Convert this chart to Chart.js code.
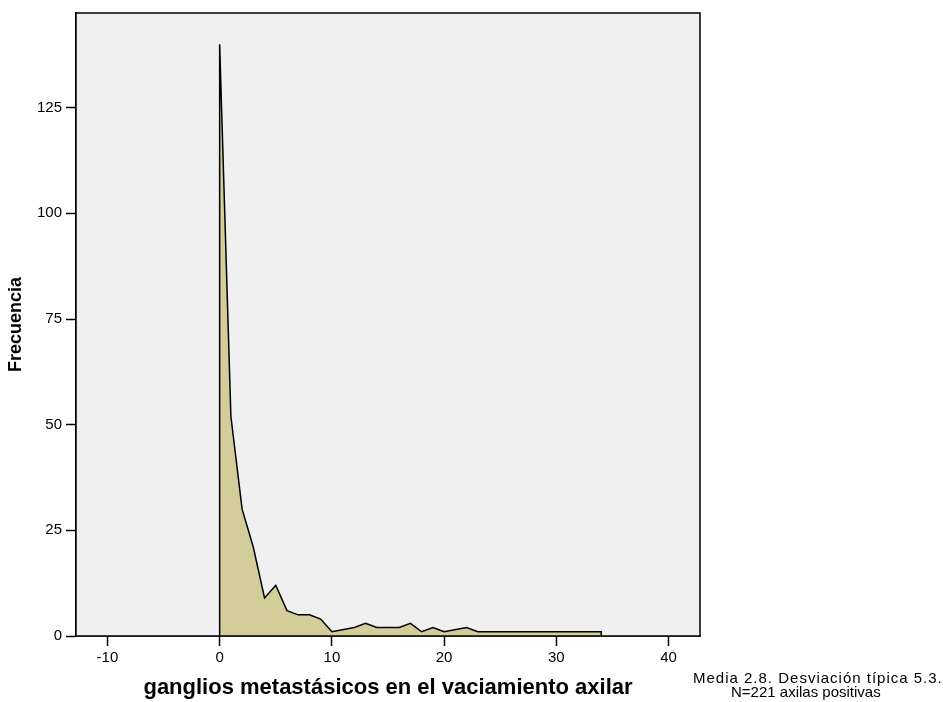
<!DOCTYPE html>
<html>
<head>
<meta charset="utf-8">
<script src="https://cdn.jsdelivr.net/npm/chart.js@4.4.1/dist/chart.umd.min.js"></script>
<style>
    body { margin: 0; background: #fff; }
    #wrap { position: relative; width: 943px; height: 702px; overflow: hidden; }
    .note {
        position: absolute; font-family: "Liberation Sans", Arial, sans-serif;
        font-size: 15px; line-height: 15px; color: #000; white-space: nowrap;
    }
    #note1 { left: 693px; top: 670px; letter-spacing: 1px; }
    #note2 { left: 731px; top: 684px; }
</style>
</head>
<body>
<div id="wrap">
    <canvas id="chart" width="943" height="702"></canvas>
    <div class="note" id="note1">Media 2.8. Desviación típica 5.3.</div>
    <div class="note" id="note2">N=221 axilas positivas</div>
</div>
<script>
const ganglios =   [0,   0,  1,  2,  3, 4,  5, 6, 7, 8, 9, 10, 12, 13, 14, 15, 16, 17, 18, 19, 20, 22, 23, 34, 34];
const frecuencia = [0, 140, 52, 30, 21, 9, 12, 6, 5, 5, 4,  1,  2,  3,  2,  2,  2,  3,  1,  2,  1,  2,  1,  1,  0];

const xTicks = [-10, 0, 10, 20, 30, 40];
const yTicks = [0, 25, 50, 75, 100, 125];

const points = ganglios.map((g, i) => ({ x: g, y: frecuencia[i] }));

const frame = {
    id: 'frame',
    beforeDatasetsDraw(chart) {
        const { ctx, chartArea: a } = chart;
        ctx.save();
        ctx.fillStyle = '#f0f0f0';
        ctx.fillRect(a.left, a.top, a.right - a.left, a.bottom - a.top);
        ctx.restore();
    },
    afterDraw(chart) {
        const { ctx, chartArea: a } = chart;
        ctx.save();
        ctx.strokeStyle = '#000';
        ctx.lineWidth = 1.5;
        ctx.strokeRect(a.left, a.top, a.right - a.left, a.bottom - a.top);
        ctx.restore();
    }
};

const family = '"Liberation Sans", Arial, sans-serif';
const tickFont = { family: family, size: 15 };

new Chart(document.getElementById('chart'), {
    type: 'scatter',
    data: {
        datasets: [{
            data: points,
            showLine: true,
            fill: 'origin',
            backgroundColor: 'rgb(211, 206, 153)',
            borderColor: '#000',
            borderWidth: 1.5,
            pointRadius: 0,
            tension: 0
        }]
    },
    options: {
        responsive: false,
        animation: false,
        devicePixelRatio: 1,
        layout: { padding: { top: 9, right: 243, left: 0, bottom: 0 } },
        plugins: { legend: { display: false }, tooltip: { enabled: false } },
        scales: {
            x: {
                type: 'linear',
                min: -12.8,
                max: 42.8,
                afterBuildTicks: s => { s.ticks = xTicks.map(v => ({ value: v })); },
                afterFit: s => { s.height = 66; },
                grid: { drawOnChartArea: false, drawTicks: true, tickLength: 10, tickWidth: 1.5, tickColor: '#000' },
                border: { display: true, color: '#000', width: 1.5 },
                ticks: { color: '#000', font: tickFont, padding: 3, maxRotation: 0 },
                title: {
                    display: true,
                    text: 'ganglios metastásicos en el vaciamiento axilar',
                    color: '#000',
                    font: { family: family, size: 22, weight: 'bold' },
                    padding: { top: 0, bottom: 1 }
                }
            },
            y: {
                type: 'linear',
                min: 0,
                max: 147.4,
                afterBuildTicks: s => { s.ticks = yTicks.map(v => ({ value: v })); },
                afterFit: s => { s.width = 76; },
                grid: { drawOnChartArea: false, drawTicks: true, tickLength: 10, tickWidth: 1.5, tickColor: '#000' },
                border: { display: true, color: '#000', width: 1.5 },
                ticks: { color: '#000', font: tickFont, padding: 4 },
                title: {
                    display: true,
                    text: 'Frecuencia',
                    color: '#000',
                    font: { family: family, size: 18, weight: 'bold' },
                    padding: { top: 5, bottom: 0 }
                }
            }
        }
    },
    plugins: [frame]
});
</script>
</body>
</html>
